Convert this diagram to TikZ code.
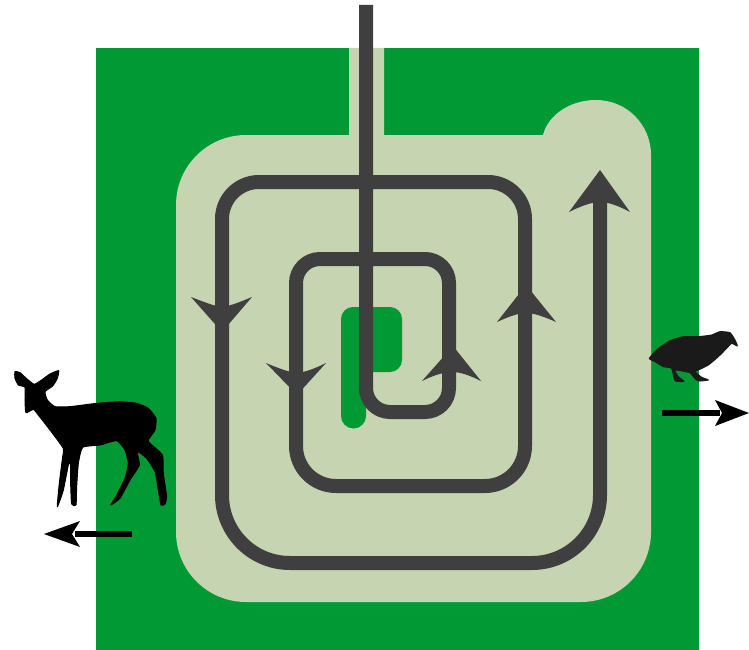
\documentclass[tikz,border=0pt]{standalone}
\definecolor{fieldgreen}{HTML}{009933}
\definecolor{pale}{HTML}{C7D4B2}
\definecolor{track}{HTML}{3F3F3F}
\definecolor{birdblack}{HTML}{1A1A1A}
\begin{document}
\begin{tikzpicture}[x=1pt,y=-1pt,
  trackline/.style={draw=track,line width=14pt,line join=round},
  trackhead/.style={fill=track},
  moveline/.style={draw=black,line width=6pt},
  silhouette/.style={fill=black,draw=black,line width=1pt,line join=round}]
\useasboundingbox (0,0) rectangle (749,650);
\fill[fieldgreen] (96,48) rectangle (699,650);
% pale ground
\fill[pale] (349,48) -- (384,48) -- (384,135) -- (543,135)
  .. controls (548,115) and (570,100) .. (596,100)
  .. controls (627,100) and (651,125) .. (651,155)
  -- (651,532) arc[start angle=0,end angle=90,radius=70] -- (246,602)
  arc[start angle=90,end angle=180,radius=70] -- (176,205)
  arc[start angle=180,end angle=270,radius=70] -- (349,135) -- cycle;
% P mark
\fill[fieldgreen] (341,319) -- (341,416)
  arc[start angle=180,end angle=0,radius=12.5] -- (366,372) -- (390,372)
  arc[start angle=90,end angle=0,radius=12] -- (402,319)
  arc[start angle=0,end angle=-90,radius=12] -- (353,307)
  arc[start angle=270,end angle=180,radius=12] -- cycle;
% spiral track
\draw[trackline] (366,5)
  [rounded corners=24pt] -- (366,412) -- (449,412) -- (449,259) -- (296,259)
  [rounded corners=40pt] -- (296,486) -- (525,486)
  [rounded corners=37pt] -- (525,182) -- (222,182)
  [rounded corners=68pt] -- (222,563) -- (600,563)
  -- (600,195);
% arrowheads
\fill[trackhead] (222,332) -- (191,297) .. controls (204,302) and (214,306) .. (222,307) .. controls (230,306) and (240,302) .. (252,297) -- cycle;
\fill[trackhead] (297,395) -- (266,363) .. controls (278,368) and (288,372) .. (297,373) .. controls (306,372) and (316,368) .. (326,363) -- cycle;
\fill[trackhead] (453,346) -- (422,381) .. controls (432,376) and (443,372) .. (452,372) .. controls (461,372) and (471,376) .. (481,381) -- cycle;
\fill[trackhead] (526,285) -- (497,322) .. controls (508,317) and (518,313) .. (526,313) .. controls (534,313) and (545,317) .. (556,322) -- cycle;
\fill[trackhead] (600,170) -- (569,212) .. controls (581,206) and (592,202) .. (600,202) .. controls (608,202) and (619,206) .. (630,212) -- cycle;
% deer
\begin{scope}[shift={(0,350)},x=0.3333pt,y=-0.3333pt]
\path[silhouette] plot[smooth cycle,tension=0.3] coordinates {
(45,65)(60,68)(82,88)(103,103)(125,90)(150,72)(176,62)(172,85)(158,108)(135,125)(142,150)(165,170)(210,170)(290,160)(360,155)(410,160)(445,175)(468,205)(465,240)(450,262)(445,275)(487,315)(490,370)(500,440)(495,462)(483,465)(475,420)(465,365)(440,325)(412,305)(418,345)(390,390)(360,445)(332,465)(345,445)(375,385)(385,340)(375,300)(350,272)(300,285)(248,292)(235,340)(230,410)(228,465)(215,462)(212,400)(212,340)(205,345)(190,420)(172,470)(178,400)(188,320)(190,295)(150,240)(115,195)(100,178)(78,188)(75,150)(75,112)(55,105)(45,85)};
\end{scope}
% bird
\begin{scope}[shift={(640,320)},x=0.3333pt,y=-0.3333pt]
\path[silhouette,fill=birdblack,draw=birdblack] plot[smooth cycle,tension=0.3] coordinates {
(28,115)(55,85)(90,62)(130,50)(175,50)(215,45)(240,35)(270,38)(285,60)(292,78)(275,70)(260,85)(235,110)(205,135)(175,150)(165,155)(185,172)(205,180)(175,183)(160,170)(150,158)(105,150)(115,170)(132,184)(105,182)(95,145)(70,140)(45,125)};
\end{scope}
% movement arrows
\draw[moveline] (132,534) -- (75,534);
\fill[black] (44,534) -- (80,521) -- (72,534) -- (80,547) -- cycle;
\draw[moveline] (662,413) -- (720,413);
\fill[black] (749,413) -- (715,400) -- (722,413) -- (715,426) -- cycle;
\end{tikzpicture}
\end{document}
